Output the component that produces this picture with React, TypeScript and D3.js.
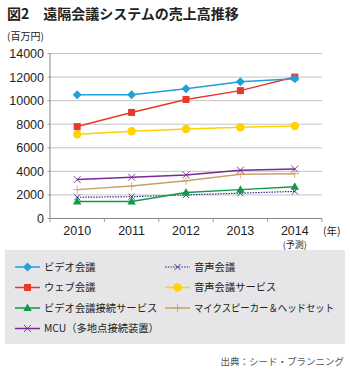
import React from "react";
import * as d3 from "d3";

const years = ["2010", "2011", "2012", "2013", "2014"];
const yTicks = [0, 2000, 4000, 6000, 8000, 10000, 12000, 14000];

const videoConf = [10500, 10500, 11000, 11600, 11850];
const webConf = [7800, 9000, 10100, 10850, 12000];
const audioService = [7150, 7400, 7600, 7750, 7850];
const mcu = [3300, 3500, 3700, 4100, 4200];
const micSpeaker = [2450, 2750, 3200, 3750, 3800];
const audioConf = [1800, 1850, 2000, 2150, 2300];
const videoService = [1450, 1450, 2200, 2450, 2700];

type Series = { name: string; values: number[]; color: string; marker: string; dash?: string };

const series: Series[] = [
  { name: "ビデオ会議", values: videoConf, color: "#1ea0dc", marker: "diamond" },
  { name: "音声会議", values: audioConf, color: "#2e3192", marker: "xsmall", dash: "1.5,1.2" },
  { name: "ウェブ会議", values: webConf, color: "#e8382a", marker: "square" },
  { name: "音声会議サービス", values: audioService, color: "#ffd200", marker: "circle" },
  { name: "ビデオ会議接続サービス", values: videoService, color: "#119a47", marker: "triangle" },
  { name: "マイクスピーカー＆ヘッドセット", values: micSpeaker, color: "#c9a06a", marker: "plus" },
  { name: "MCU（多地点接続装置）", values: mcu, color: "#7a2a92", marker: "x" },
];

// drawing order: back to front
const drawOrder = [5, 6, 1, 4, 3, 2, 0];

const jp = "'Noto Sans CJK JP', sans-serif";
const num = "'Liberation Sans', Arial, sans-serif";

function Marker({ type, x, y, color }: { type: string; x: number; y: number; color: string }) {
  switch (type) {
    case "diamond":
      return <path d={`M${x},${y - 4.5}L${x + 4.5},${y}L${x},${y + 4.5}L${x - 4.5},${y}Z`} fill={color} />;
    case "square":
      return <rect x={x - 3.5} y={y - 3.5} width={7} height={7} fill={color} />;
    case "circle":
      return <circle cx={x} cy={y} r={4.2} fill={color} />;
    case "triangle":
      return <path d={`M${x},${y - 4.5}L${x + 4.2},${y + 3}L${x - 4.2},${y + 3}Z`} fill={color} />;
    case "plus":
      return (
        <g stroke={color} strokeWidth={0.8}>
          <line x1={x - 4} x2={x + 4} y1={y} y2={y} />
          <line x1={x} x2={x} y1={y - 4} y2={y + 4} />
        </g>
      );
    case "x":
      return (
        <g stroke={color} strokeWidth={0.9}>
          <line x1={x - 3.5} x2={x + 3.5} y1={y - 3.5} y2={y + 3.5} />
          <line x1={x - 3.5} x2={x + 3.5} y1={y + 3.5} y2={y - 3.5} />
        </g>
      );
    case "xsmall":
      return (
        <g stroke={color} strokeWidth={0.9}>
          <line x1={x - 3} x2={x + 3} y1={y - 3} y2={y + 3} />
          <line x1={x - 3} x2={x + 3} y1={y + 3} y2={y - 3} />
        </g>
      );
  }
  return null;
}

export default function App() {
  const x = d3.scaleBand().domain(years).range([50, 322]);
  const y = d3.scaleLinear().domain([0, 14000]).range([218.5, 53.5]);
  const cx = (yr: string) => (x(yr) as number) + x.bandwidth() / 2;

  const line = d3
    .line<number>()
    .x((_, i) => cx(years[i]))
    .y((d) => y(d));

  const boundaries = [...years.map((yr) => x(yr) as number), 322];

  const legendRows = [267, 287.5, 308, 328.5];
  const legendCols = [15, 165];

  return (
    <svg width={350} height={373} style={{ position: "absolute", left: 0, top: 0, background: "#fff" }}>
      <text x={7} y={19} fontFamily={jp} fontWeight="bold" fontSize={14} fill="#222">
        図2　遠隔会議システムの売上高推移
      </text>
      <text x={7} y={40} fontFamily={jp} fontSize={10} fill="#222">
        (百万円)
      </text>

      {/* gridlines */}
      {yTicks.map((t) => (
        <g key={t}>
          {t > 0 && <line x1={50} x2={322} y1={y(t)} y2={y(t)} stroke="#c4c4c4" strokeWidth={1} />}
          <line x1={47.5} x2={50} y1={y(t)} y2={y(t)} stroke="#888" strokeWidth={0.8} />
          <text x={44} y={y(t)} dy="0.36em" textAnchor="end" fontFamily={num} fontSize={12.5} fill="#222">
            {t}
          </text>
        </g>
      ))}
      <line x1={50} x2={50} y1={53.5} y2={218.5} stroke="#888" strokeWidth={1} />
      <line x1={50} x2={322} y1={218.5} y2={218.5} stroke="#888" strokeWidth={1} />
      {boundaries.map((b, i) => (
        <line key={i} x1={b} x2={b} y1={218.5} y2={222} stroke="#888" strokeWidth={0.8} />
      ))}
      {years.map((yr) => (
        <text key={yr} x={cx(yr)} y={234.5} textAnchor="middle" fontFamily={num} fontSize={12.5} fill="#222">
          {yr}
        </text>
      ))}
      <text x={cx("2014")} y={247.5} textAnchor="middle" fontFamily={jp} fontSize={9} fill="#222">
        (予測)
      </text>
      <text x={323} y={234.5} fontFamily={jp} fontSize={10.5} fill="#222">
        (年)
      </text>

      {/* series */}
      {drawOrder.map((si) => {
        const s = series[si];
        return (
          <g key={s.name}>
            <path
              d={line(s.values) || ""}
              fill="none"
              stroke={s.color}
              strokeWidth={s.dash ? 1.2 : 1.5}
              strokeDasharray={s.dash}
            />
            {s.values.map((v, i) => (
              <Marker key={i} type={s.marker} x={cx(years[i])} y={y(v)} color={s.color} />
            ))}
          </g>
        );
      })}

      {/* legend */}
      <rect x={5} y={250} width={340} height={94} fill="#e6e6e8" />
      {series.map((s, i) => {
        const row = Math.floor(i / 2);
        const col = i % 2;
        const lx = legendCols[col];
        const ly = legendRows[row];
        const long = s.name.length > 12;
        return (
          <g key={s.name}>
            <line
              x1={lx}
              x2={lx + 25}
              y1={ly}
              y2={ly}
              stroke={s.color}
              strokeWidth={s.dash ? 1.2 : 1.5}
              strokeDasharray={s.dash}
            />
            <Marker type={s.marker} x={lx + 12.5} y={ly} color={s.color} />
            <text
              x={lx + 29}
              y={ly}
              dy="0.36em"
              fontFamily={jp}
              fontSize={10.3}
              fill="#222"
              textLength={long ? 140 : undefined}
              lengthAdjust={long ? "spacingAndGlyphs" : undefined}
            >
              {s.name}
            </text>
          </g>
        );
      })}

      <text x={344} y={365} textAnchor="end" fontFamily={jp} fontSize={9.5} fill="#555">
        出典：シード・プランニング
      </text>
    </svg>
  );
}
